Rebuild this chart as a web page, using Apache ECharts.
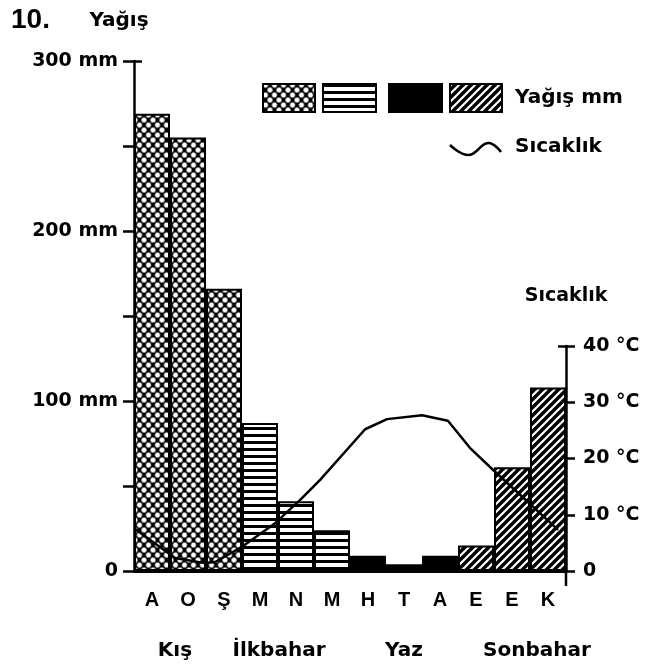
<!DOCTYPE html>
<html>
<head>
<meta charset="utf-8">
<script src="https://cdn.jsdelivr.net/npm/echarts@6/dist/echarts.min.js"></script>
<style>html,body{margin:0;padding:0;background:#fff}#c{width:656px;height:666px}</style>
</head>
<body>
<div id="c"></div>
<script>
// ---- data ----
const months = ['A','O','Ş','M','N','M','H','T','A','E','E','K'];
const rainfall = [269,255,166,87,41,24,9,4,9,15,61,108];
const monthSeason = ['kis','kis','kis','ilkbahar','ilkbahar','ilkbahar','yaz','yaz','yaz','sonbahar','sonbahar','sonbahar'];
const seasonNames = ['Kış','İlkbahar','Yaz','Sonbahar'];
// temperature curve: [position along month axis (0..12), °C]
const tempX = [0,1.14,1.97,2.25,3.0,3.92,4.61,5.17,6.42,7.03,8.0,8.72,9.33,9.97,11.78];
const tempC = [7.6,2.3,1.4,1.6,4.3,8.5,12.6,16.2,25.2,27.0,27.7,26.7,21.9,18.0,7.3];
const rainTickLabels = {0:'0',100:'100 mm',200:'200 mm',300:'300 mm'};
const tempTickLabels = {0:'0',10:'10 °C',20:'20 °C',30:'30 °C',40:'40 °C'};

const ARIAL = "'Liberation Sans', Arial, sans-serif";
const WIDE = "'DejaVu Sans', sans-serif";

function makeCanvas(w, h, draw) {
  const c = document.createElement('canvas');
  c.width = w; c.height = h;
  draw(c.getContext('2d'), w, h);
  return c;
}
const patWinter = makeCanvas(9, 10, (ctx, w, h) => {
  ctx.fillStyle = '#000'; ctx.fillRect(0, 0, w, h);
  const pts = [[0,0],[w,0],[0,h],[w,h],[w/2,h/2]];
  pts.forEach(([x,y]) => {
    ctx.beginPath(); ctx.arc(x, y, 2.6, 0, Math.PI*2);
    ctx.fillStyle = '#fff'; ctx.fill();
    ctx.lineWidth = 0.8; ctx.strokeStyle = '#777'; ctx.stroke();
  });
});
const patSpring = makeCanvas(8, 7, (ctx, w, h) => {
  ctx.fillStyle = '#fff'; ctx.fillRect(0, 0, w, h);
  ctx.fillStyle = '#000'; ctx.fillRect(0, 0, w, 3);
});
const patAutumn = makeCanvas(8, 8, (ctx, w, h) => {
  ctx.fillStyle = '#000'; ctx.fillRect(0, 0, w, h);
  ctx.strokeStyle = '#fff'; ctx.lineWidth = 2.2;
  [[-1,9,9,-1],[-1,1,1,-1],[7,9,9,7]].forEach(([a,b,c,d]) => {
    ctx.beginPath(); ctx.moveTo(a,b); ctx.lineTo(c,d); ctx.stroke();
  });
});
const fills = {
  kis: {image: patWinter, repeat: 'repeat'},
  ilkbahar: {image: patSpring, repeat: 'repeat'},
  yaz: '#000',
  sonbahar: {image: patAutumn, repeat: 'repeat'}
};

const chart = echarts.init(document.getElementById('c'), null, {renderer: 'canvas'});

const labelStyle = {color: '#000', fontFamily: WIDE, fontWeight: 'bold', fontSize: 19};
const tickStyle = {color: '#000', width: 2.5};
const rainRect = {left: 134, right: 90, top: 61, bottom: 95};
const tempRect = {left: 134, right: 90, top: 346, bottom: 95};
const hiddenX = gi => ({type: 'value', gridIndex: gi, min: 0, max: 12, show: false});

const option = {
  backgroundColor: '#fff',
  animation: false,
  grid: [rainRect, rainRect, tempRect, tempRect],
  xAxis: [
    {
      type: 'category', gridIndex: 0, data: months,
      axisLine: {onZero: false, lineStyle: {color: '#000', width: 3}},
      axisTick: {show: false},
      axisLabel: {color: '#000', fontFamily: ARIAL, fontWeight: 'bold', fontSize: 20, margin: 19, interval: 0}
    },
    hiddenX(1), hiddenX(2), hiddenX(3)
  ],
  yAxis: [
    {
      type: 'value', gridIndex: 0, position: 'left', min: 0, max: 300, interval: 50,
      name: 'Yağış', nameLocation: 'end', nameGap: 30,
      nameTextStyle: Object.assign({}, labelStyle, {fontSize: 20, padding: [0, 30, 0, 0]}),
      axisLine: {show: true, onZero: false, lineStyle: {color: '#000', width: 2.5}},
      axisTick: {show: true, inside: false, length: 11, lineStyle: tickStyle},
      axisLabel: Object.assign({}, labelStyle, {margin: 16, formatter: v => rainTickLabels[v] || ''}),
      splitLine: {show: false}
    },
    {
      type: 'value', gridIndex: 1, position: 'left', min: 0, max: 300, interval: 100,
      axisLine: {show: false, onZero: false},
      axisTick: {show: true, inside: true, length: 8, lineStyle: tickStyle},
      axisLabel: {show: false}, splitLine: {show: false}
    },
    {
      type: 'value', gridIndex: 2, position: 'right', min: 0, max: 40, interval: 10,
      name: 'Sıcaklık', nameLocation: 'end', nameGap: 40,
      nameTextStyle: labelStyle,
      axisLine: {show: true, onZero: false, lineStyle: {color: '#000', width: 2.5}},
      axisTick: {show: true, inside: false, length: 9, lineStyle: tickStyle},
      axisLabel: Object.assign({}, labelStyle, {margin: 17, formatter: v => tempTickLabels[v] || ''}),
      splitLine: {show: false}
    },
    {
      type: 'value', gridIndex: 3, position: 'right', min: 0, max: 40, interval: 10,
      axisLine: {show: false, onZero: false},
      axisTick: {show: true, inside: true, length: 8, lineStyle: tickStyle},
      axisLabel: {show: false}, splitLine: {show: false}
    }
  ],
  series: [
    {
      type: 'bar', xAxisIndex: 0, yAxisIndex: 0, barCategoryGap: '0%', z: 2,
      data: rainfall.map((v, i) => ({
        value: v,
        itemStyle: {color: fills[monthSeason[i]], borderColor: '#000', borderWidth: 2}
      }))
    },
    {
      type: 'line', xAxisIndex: 2, yAxisIndex: 2, z: 5,
      symbol: 'none', smooth: false,
      lineStyle: {color: '#000', width: 2.5},
      data: tempX.map((x, i) => [x, tempC[i]])
    }
  ]
};
chart.setOption(option);

// decorations: title, legend, season labels
const seasonCenterX = [175, 279, 404, 537];
const legendBoxes = [
  {x: 263, w: 52, fill: fills.kis},
  {x: 323, w: 53, fill: fills.ilkbahar},
  {x: 389, w: 53, fill: fills.yaz},
  {x: 450, w: 52, fill: fills.sonbahar}
];
const zeroPx = chart.convertToPixel({xAxisIndex: 2, yAxisIndex: 2}, [12, 0]);
const graphics = [
  {type: 'text', x: 11, y: 6, style: {text: '10.', fill: '#000', font: "bold 28px " + ARIAL}},
  {type: 'line', shape: {x1: zeroPx[0], y1: zeroPx[1], x2: zeroPx[0], y2: zeroPx[1] + 15}, style: {stroke: '#000', lineWidth: 2.5}},
  {type: 'text', x: 515, y: 98, style: {text: 'Yağış mm', fill: '#000', font: "bold 20px " + WIDE, textVerticalAlign: 'middle'}},
  {type: 'text', x: 515, y: 147, style: {text: 'Sıcaklık', fill: '#000', font: "bold 20px " + WIDE, textVerticalAlign: 'middle'}},
  {type: 'polyline', shape: {points: [[450,145],[469,155],[488,143],[501,152]], smooth: 0.45}, style: {stroke: '#000', lineWidth: 2.5, fill: null}}
];
legendBoxes.forEach(b => graphics.push({
  type: 'rect', shape: {x: b.x, y: 84, width: b.w, height: 28},
  style: {fill: b.fill, stroke: '#000', lineWidth: 2}
}));
seasonNames.forEach((n, i) => graphics.push({
  type: 'text', x: seasonCenterX[i], y: 651,
  style: {text: n, fill: '#000', font: "bold 20px " + WIDE, textAlign: 'center', textVerticalAlign: 'middle'}
}));
chart.setOption({graphic: graphics});
</script>
</body>
</html>
